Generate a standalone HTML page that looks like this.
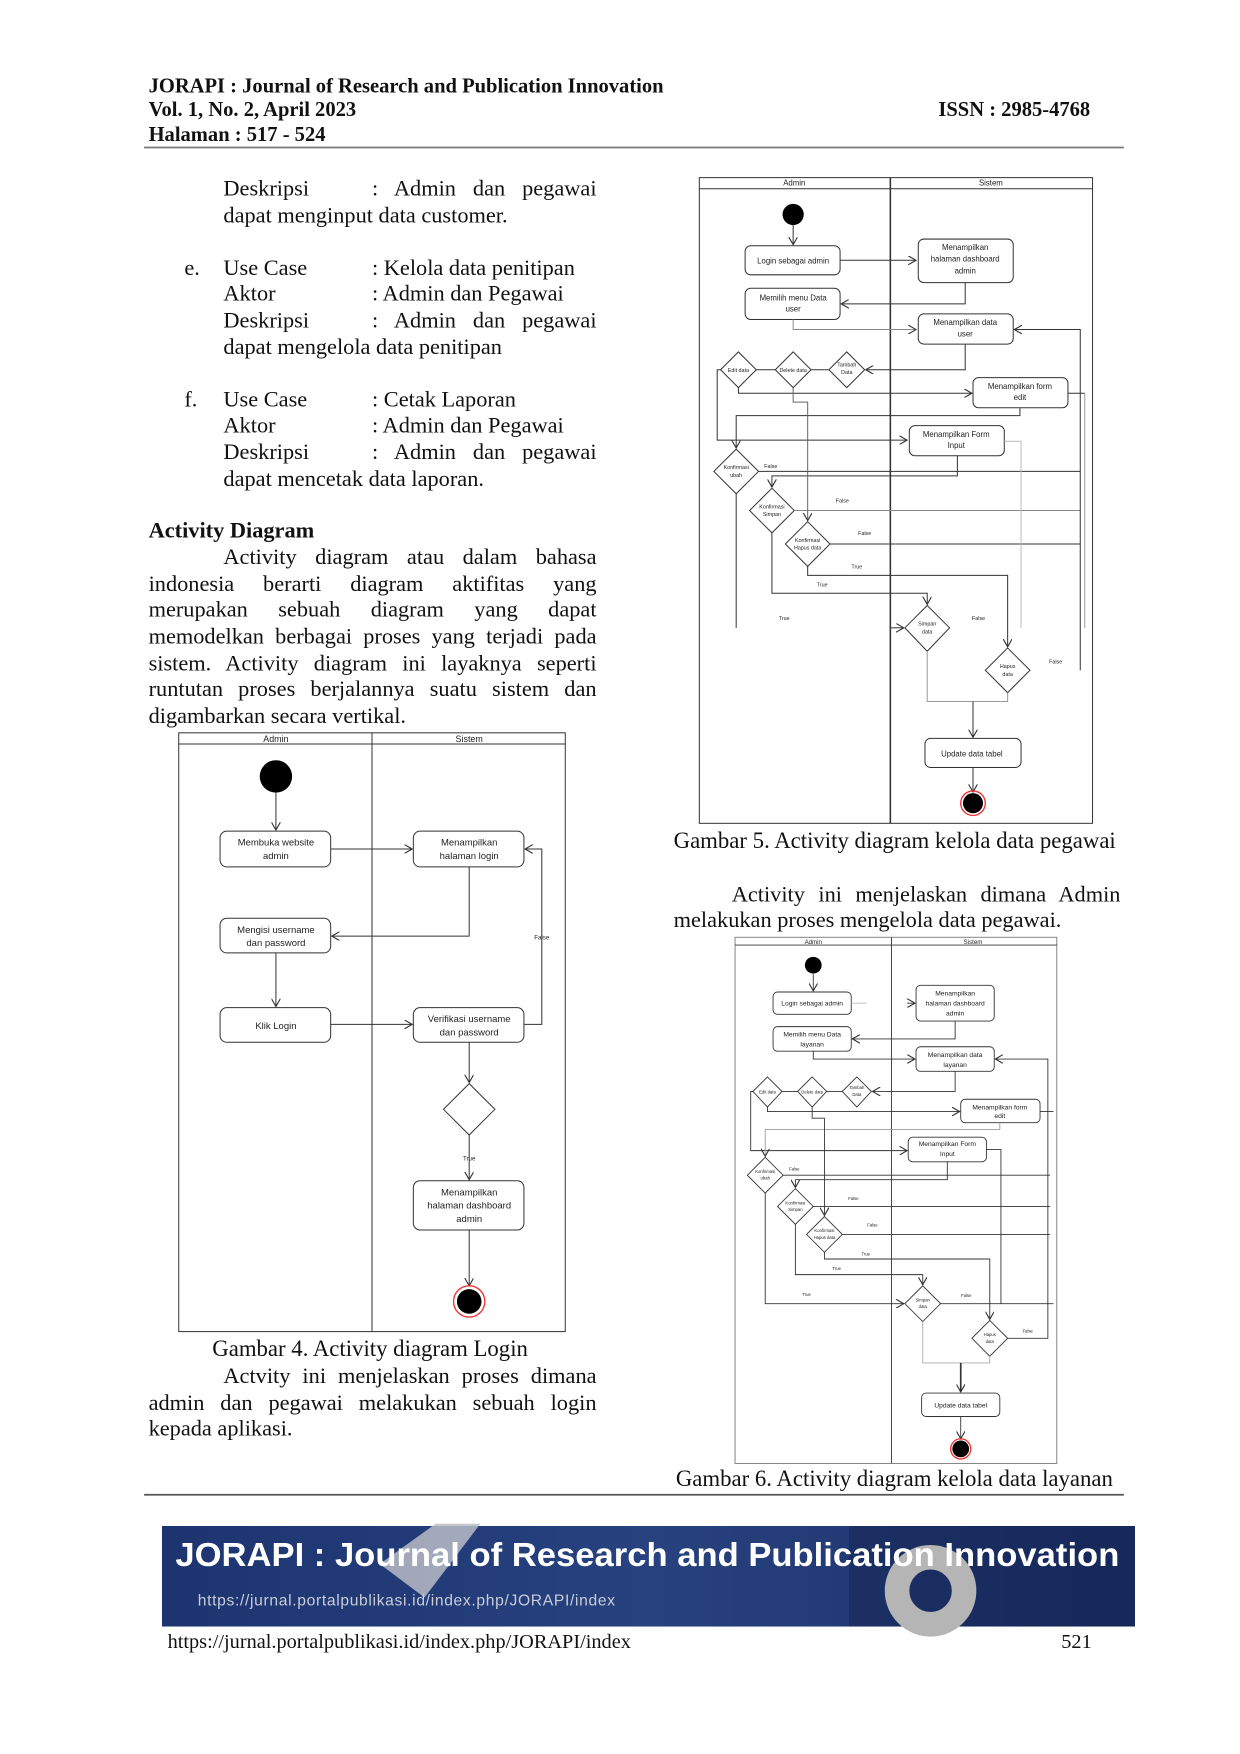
<!DOCTYPE html>
<html><head><meta charset="utf-8"><style>
html,body{margin:0;padding:0;background:#fff}
#root{position:relative;width:1240px;height:1754px;overflow:hidden}
#w{position:absolute;left:0;top:0;width:1110px;height:1570px;transform:scale(1.11712);transform-origin:0 0;font-family:"Liberation Serif",serif;color:#111}
.l{position:absolute;font-size:20px;line-height:24px;white-space:nowrap}
.j{text-align:justify;text-align-last:justify;white-space:normal}
.h{position:absolute;font-size:18.4px;font-weight:bold;line-height:22px;white-space:nowrap}
svg text{font-family:"Liberation Sans",sans-serif;fill:#222}
</style></head><body><div id="root"><div id="w">
<div class="h" style="left:133px;top:66px">JORAPI : Journal of Research and Publication Innovation</div>
<div class="h" style="left:133px;top:87px">Vol. 1, No. 2, April 2023</div>
<div class="h" style="left:133px;top:109px">Halaman : 517 - 524</div>
<div class="h" style="left:840px;top:87px">ISSN : 2985-4768</div>

<div class="l" style="left:200px;top:157px">Deskripsi</div><div class="l j" style="left:333px;top:157px;width:201px">: Admin dan pegawai</div>
<div class="l" style="left:200px;top:181px">dapat menginput data customer.</div>
<div class="l" style="left:165px;top:228px">e.</div>
<div class="l" style="left:200px;top:228px">Use Case</div><div class="l" style="left:333px;top:228px">: Kelola data penitipan</div>
<div class="l" style="left:200px;top:251px">Aktor</div><div class="l" style="left:333px;top:251px">: Admin dan Pegawai</div>
<div class="l" style="left:200px;top:275px">Deskripsi</div><div class="l j" style="left:333px;top:275px;width:201px">: Admin dan pegawai</div>
<div class="l" style="left:200px;top:299px">dapat mengelola data penitipan</div>
<div class="l" style="left:165px;top:346px">f.</div>
<div class="l" style="left:200px;top:346px">Use Case</div><div class="l" style="left:333px;top:346px">: Cetak Laporan</div>
<div class="l" style="left:200px;top:369px">Aktor</div><div class="l" style="left:333px;top:369px">: Admin dan Pegawai</div>
<div class="l" style="left:200px;top:393px">Deskripsi</div><div class="l j" style="left:333px;top:393px;width:201px">: Admin dan pegawai</div>
<div class="l" style="left:200px;top:417px">dapat mencetak data laporan.</div>
<div class="l" style="left:133px;top:463px;font-weight:bold">Activity Diagram</div>
<div class="l j" style="left:200px;top:487px;width:334px">Activity diagram atau dalam bahasa</div>
<div class="l j" style="left:133px;top:511px;width:401px">indonesia berarti diagram aktifitas yang</div>
<div class="l j" style="left:133px;top:534px;width:401px">merupakan sebuah diagram yang dapat</div>
<div class="l j" style="left:133px;top:558px;width:401px">memodelkan berbagai proses yang terjadi pada</div>
<div class="l j" style="left:133px;top:582px;width:401px">sistem. Activity diagram ini layaknya seperti</div>
<div class="l j" style="left:133px;top:605px;width:401px">runtutan proses berjalannya suatu sistem dan</div>
<div class="l" style="left:133px;top:629px">digambarkan secara vertikal.</div>

<div class="l" style="left:190px;top:1196px;font-size:20.4px">Gambar 4. Activity diagram Login</div>
<div class="l j" style="left:200px;top:1220px;width:334px">Actvity ini menjelaskan proses dimana</div>
<div class="l j" style="left:133px;top:1244px;width:401px">admin dan pegawai melakukan sebuah login</div>
<div class="l" style="left:133px;top:1267px">kepada aplikasi.</div>

<div class="l" style="left:603px;top:741px;font-size:20.4px">Gambar 5. Activity diagram kelola data pegawai</div>
<div class="l j" style="left:655px;top:789px;width:348px">Activity ini menjelaskan dimana Admin</div>
<div class="l" style="left:603px;top:812px">melakukan proses mengelola data pegawai.</div>
<div class="l" style="left:605px;top:1312px;font-size:20.4px">Gambar 6. Activity diagram kelola data layanan</div>

<div class="l" style="left:150px;top:1457px;font-size:18.2px">https://jurnal.portalpublikasi.id/index.php/JORAPI/index</div>
<div class="l" style="left:950px;top:1457px;font-size:18.2px">521</div>

<svg style="position:absolute;left:0;top:0" width="1110" height="1570" viewBox="0 0 1110 1570">
<defs>
<marker id="a" markerWidth="8" markerHeight="8" refX="7" refY="4" orient="auto" markerUnits="userSpaceOnUse"><path d="M0,0 L7,4 L0,8" fill="none" stroke="#333" stroke-width="1"/></marker>
<linearGradient id="bg" x1="0" x2="1"><stop offset="0" stop-color="#1d3470"/><stop offset="0.5" stop-color="#27427f"/><stop offset="1" stop-color="#1c2f66"/></linearGradient>
</defs>
<line x1="129" y1="132" x2="1006" y2="132" stroke="#777" stroke-width="1.6"/>
<line x1="129" y1="1338" x2="1006" y2="1338" stroke="#555" stroke-width="1.6"/>

<!-- Diagram 1 -->
<g fill="none" stroke="#333" stroke-width="0.9">
<rect x="160" y="656" width="346" height="536"/>
<line x1="160" y1="666" x2="506" y2="666"/>
<line x1="333" y1="656" x2="333" y2="1192"/>
<line x1="247" y1="709" x2="247" y2="743" marker-end="url(#a)"/>
<rect x="197" y="744" width="99" height="32" rx="6"/>
<rect x="370" y="744" width="99" height="32" rx="6"/>
<line x1="296" y1="760" x2="369" y2="760" marker-end="url(#a)"/>
<polyline points="420,776 420,838 297,838" marker-end="url(#a)"/>
<rect x="197" y="822" width="99" height="31" rx="6"/>
<line x1="247" y1="853" x2="247" y2="901" marker-end="url(#a)"/>
<rect x="197" y="902" width="99" height="31" rx="6"/>
<line x1="296" y1="917" x2="369" y2="917" marker-end="url(#a)"/>
<rect x="370" y="902" width="99" height="31" rx="6"/>
<polyline points="469,917 485,917 485,760 470,760" marker-end="url(#a)"/>
<line x1="420" y1="933" x2="420" y2="969" marker-end="url(#a)"/>
<polygon points="420,970 443,993 420,1016 397,993"/>
<line x1="420" y1="1016" x2="420" y2="1056" marker-end="url(#a)"/>
<rect x="370" y="1057" width="99" height="44" rx="6"/>
<line x1="420" y1="1101" x2="420" y2="1151" marker-end="url(#a)"/>
<circle cx="420" cy="1165" r="14" stroke="#e33" stroke-width="1.2"/>
</g>
<circle cx="247" cy="695" r="14.5" fill="#000"/>
<circle cx="420" cy="1165" r="11" fill="#000"/>
<g font-size="8.5" text-anchor="middle">
<text x="247" y="664" font-size="8">Admin</text><text x="420" y="664" font-size="8">Sistem</text>
<text x="247" y="757">Membuka website</text><text x="247" y="769">admin</text>
<text x="420" y="757">Menampilkan</text><text x="420" y="769">halaman login</text>
<text x="247" y="835">Mengisi username</text><text x="247" y="847">dan password</text>
<text x="247" y="921">Klik Login</text>
<text x="420" y="915">Verifikasi username</text><text x="420" y="927">dan password</text>
<text x="420" y="1070">Menampilkan</text><text x="420" y="1082">halaman dashboard</text><text x="420" y="1094">admin</text>
<text x="485" y="841" font-size="5.5">False</text><text x="420" y="1039" font-size="5.5">True</text>
</g>

<!-- Diagram 2 -->
<g fill="none" stroke="#333" stroke-width="0.9">
<rect x="626" y="159" width="352" height="578"/>
<line x1="626" y1="169" x2="978" y2="169"/>
<line x1="797" y1="159" x2="797" y2="737" stroke-width="1.4"/>
<line x1="710" y1="201" x2="710" y2="219" marker-end="url(#a)"/>
<rect x="667" y="220" width="85" height="26" rx="5"/>
<line x1="752" y1="233" x2="820" y2="233" marker-end="url(#a)"/>
<rect x="822" y="214" width="85" height="39" rx="5"/>
<polyline points="864,253 864,272 753,272" marker-end="url(#a)"/>
<rect x="667" y="258" width="85" height="28" rx="5"/>
<polyline points="710,286 710,295 820,295" marker-end="url(#a)" stroke="#888"/>
<rect x="822" y="281" width="85" height="27" rx="5"/>
<polyline points="864,308 864,331 775,331" marker-end="url(#a)"/>
<polygon points="661,315 677,331 661,347 645,331"/>
<polygon points="710,315 726,331 710,347 694,331"/>
<polygon points="758,315 774,331 758,347 742,331"/>
<line x1="677" y1="331" x2="694" y2="331"/><line x1="726" y1="331" x2="742" y2="331"/>
<polyline points="661,347 661,352 870,352" marker-end="url(#a)"/>
<rect x="871" y="338" width="85" height="27" rx="5"/>
<polyline points="645,331 642,331 642,394 812,394" marker-end="url(#a)"/>
<rect x="814" y="381" width="85" height="27" rx="5"/>
<polyline points="913,365 913,372 659,372 659,401" marker-end="url(#a)"/>
<polygon points="659,402 679,422 659,442 639,422"/>
<line x1="679" y1="422" x2="967" y2="422"/>
<polyline points="857,408 857,426 691,426 691,436" marker-end="url(#a)"/>
<polygon points="691,437 711,457 691,477 671,457"/>
<line x1="711" y1="457" x2="967" y2="457" stroke="#888"/>
<polyline points="710,347 710,360 723,360 723,466" marker-end="url(#a)" stroke="#666"/>
<polygon points="723,467 743,487 723,507 703,487"/>
<line x1="743" y1="487" x2="967" y2="487"/>
<polyline points="723,507 723,515 902,515 902,579" marker-end="url(#a)"/>
<polygon points="902,580 922,600 902,620 882,600"/>
<polyline points="691,477 691,531 830,531 830,541" marker-end="url(#a)"/>
<polygon points="830,542 850,562 830,583 810,562"/>
<line x1="659" y1="442" x2="659" y2="562"/>
<line x1="797" y1="562" x2="809" y2="562" marker-end="url(#a)"/>
<polyline points="967,600 967,295 908,295" marker-end="url(#a)"/>
<line x1="956" y1="352" x2="971" y2="352"/><line x1="971" y1="352" x2="971" y2="562" stroke="#999"/>
<polyline points="899,395 914,395 914,562" stroke="#bbb"/>
<polyline points="830,583 830,628 902,628 902,620" stroke="#999"/>
<line x1="871" y1="628" x2="871" y2="660" marker-end="url(#a)"/>
<rect x="828" y="661" width="86" height="26" rx="5"/>
<line x1="871" y1="687" x2="871" y2="709" marker-end="url(#a)"/>
<circle cx="871" cy="719" r="11" stroke="#e33" stroke-width="1.2"/>
</g>
<circle cx="710" cy="192" r="9.5" fill="#000"/>
<circle cx="871" cy="719" r="9" fill="#000"/>
<g font-size="7" text-anchor="middle">
<text x="711" y="166" font-size="7">Admin</text><text x="887" y="166" font-size="7">Sistem</text>
<text x="710" y="236">Login sebagai admin</text>
<text x="864" y="224">Menampilkan</text><text x="864" y="234">halaman dashboard</text><text x="864" y="245">admin</text>
<text x="710" y="269">Memilih menu Data</text><text x="710" y="279">user</text>
<text x="864" y="291">Menampilkan data</text><text x="864" y="301">user</text>
<text x="913" y="348">Menampilkan form</text><text x="913" y="358">edit</text>
<text x="856" y="391">Menampilkan Form</text><text x="856" y="401">Input</text>
<text x="870" y="677">Update data tabel</text>
<g font-size="4.8"><text x="661" y="333">Edit data</text><text x="710" y="333">Delete data</text><text x="758" y="328">Tambah</text><text x="758" y="335">Data</text>
<text x="659" y="420">Konfirmasi</text><text x="659" y="427">ubah</text>
<text x="691" y="455">Konfirmasi</text><text x="691" y="462">Simpan</text>
<text x="723" y="485">Konfirmasi</text><text x="723" y="492">Hapus data</text>
<text x="830" y="560">Simpan</text><text x="830" y="567">data</text>
<text x="902" y="598">Hapus</text><text x="902" y="605">data</text>
<text x="690" y="419">False</text><text x="754" y="450">False</text><text x="774" y="479">False</text>
<text x="767" y="509">True</text><text x="736" y="525">True</text><text x="702" y="555">True</text>
<text x="876" y="555">False</text><text x="945" y="594">False</text></g>
</g>

<!-- Diagram 3 -->
<g fill="none" stroke="#333" stroke-width="0.8">
<rect x="658" y="839" width="288" height="471" stroke="#777"/>
<line x1="658" y1="846" x2="946" y2="846"/>
<line x1="798" y1="839" x2="798" y2="1310"/>
<line x1="728" y1="872" x2="728" y2="887" marker-end="url(#a)"/>
<rect x="692" y="888" width="70" height="20" rx="4"/>
<line x1="762" y1="898" x2="776" y2="898" stroke="#bbb"/>
<line x1="812" y1="898" x2="819" y2="898" marker-end="url(#a)"/>
<rect x="820" y="882" width="70" height="32" rx="4"/>
<polyline points="855,914 855,930 763,930" marker-end="url(#a)"/>
<rect x="692" y="919" width="70" height="22" rx="4"/>
<polyline points="728,941 728,948 819,948" marker-end="url(#a)"/>
<rect x="820" y="937" width="70" height="22" rx="4"/>
<polyline points="855,959 855,977 781,977" marker-end="url(#a)"/>
<polygon points="687,964 700,977 687,991 674,977"/>
<polygon points="727,964 740,977 727,991 714,977"/>
<polygon points="767,964 780,977 767,991 754,977"/>
<line x1="700" y1="977" x2="714" y2="977"/><line x1="740" y1="977" x2="754" y2="977"/>
<polyline points="687,991 687,995 859,995" marker-end="url(#a)"/>
<rect x="860" y="984" width="71" height="21" rx="4"/>
<polyline points="674,977 672,977 672,1030 812,1030" marker-end="url(#a)"/>
<rect x="813" y="1018" width="70" height="22" rx="4"/>
<polyline points="895,1005 895,1011 685,1011 685,1035" marker-end="url(#a)" stroke="#999"/>
<polygon points="685,1036 701,1052 685,1068 669,1052"/>
<line x1="701" y1="1052" x2="940" y2="1052"/>
<polyline points="848,1040 848,1056 712,1056 712,1063" marker-end="url(#a)"/>
<polygon points="712,1064 728,1080 712,1096 696,1080"/>
<line x1="728" y1="1080" x2="940" y2="1080"/>
<polyline points="727,991 727,1001 738,1001 738,1088" marker-end="url(#a)"/>
<polygon points="738,1089 754,1105 738,1121 722,1105"/>
<line x1="754" y1="1105" x2="940" y2="1105"/>
<polyline points="738,1121 738,1127 886,1127 886,1181" marker-end="url(#a)"/>
<polygon points="886,1182 902,1198 886,1214 870,1198"/>
<polyline points="712,1096 712,1141 826,1141 826,1150" marker-end="url(#a)"/>
<polygon points="826,1151 842,1167 826,1183 810,1167"/>
<polyline points="685,1068 685,1167 809,1167" marker-end="url(#a)"/>
<line x1="842" y1="1167" x2="943" y2="1167"/>
<polyline points="902,1198 938,1198 938,948 891,948" marker-end="url(#a)"/>
<polyline points="931,995 943,995"/>
<polyline points="883,1029 896,1029 896,1167"/>
<polyline points="826,1183 826,1220 886,1220 886,1214" stroke="#aaa"/>
<line x1="860" y1="1220" x2="860" y2="1246" marker-end="url(#a)" stroke-width="1.5"/>
<rect x="825" y="1247" width="70" height="21" rx="4"/>
<line x1="860" y1="1268" x2="860" y2="1288" marker-end="url(#a)"/>
<circle cx="860" cy="1297" r="9" stroke="#e33" stroke-width="1.2"/>
</g>
<circle cx="728" cy="864" r="7.5" fill="#000"/>
<circle cx="860" cy="1297" r="7.5" fill="#000"/>
<g font-size="6" text-anchor="middle">
<text x="728" y="845" font-size="5.5">Admin</text><text x="871" y="845" font-size="5.5">Sistem</text>
<text x="727" y="900">Login sebagai admin</text>
<text x="855" y="891">Menampilkan</text><text x="855" y="900">halaman dashboard</text><text x="855" y="909">admin</text>
<text x="727" y="928">Memilih menu Data</text><text x="727" y="937">layanan</text>
<text x="855" y="946">Menampilkan data</text><text x="855" y="955">layanan</text>
<text x="895" y="993">Menampilkan form</text><text x="895" y="1001">edit</text>
<text x="848" y="1026">Menampilkan Form</text><text x="848" y="1035">Input</text>
<text x="860" y="1260">Update data tabel</text>
<g font-size="3.8"><text x="687" y="979">Edit data</text><text x="727" y="979">Delete data</text><text x="767" y="975">Tambah</text><text x="767" y="981">Data</text>
<text x="685" y="1050">Konfirmasi</text><text x="685" y="1056">ubah</text>
<text x="712" y="1078">Konfirmasi</text><text x="712" y="1084">Simpan</text>
<text x="738" y="1103">Konfirmasi</text><text x="738" y="1109">Hapus data</text>
<text x="826" y="1165">Simpan</text><text x="826" y="1171">data</text>
<text x="886" y="1196">Hapus</text><text x="886" y="1202">data</text>
<text x="711" y="1048">False</text><text x="764" y="1074">False</text><text x="781" y="1098">False</text>
<text x="775" y="1124">True</text><text x="749" y="1137">True</text><text x="722" y="1160">True</text>
<text x="865" y="1161">False</text><text x="920" y="1193">False</text></g>
</g>

<!-- Banner -->
<rect x="145" y="1366" width="871" height="90" fill="url(#bg)"/>
<polygon points="340,1400 390,1364 430,1364 380,1430" fill="#b8bcc6" opacity="0.85"/>
<rect x="760" y="1366" width="256" height="90" fill="#0f1d44" opacity="0.35"/>
<circle cx="833" cy="1424" r="30" fill="none" stroke="#b5b5b5" stroke-width="22"/>
<text x="157" y="1402" font-size="30" font-weight="bold" textLength="845" lengthAdjust="spacingAndGlyphs" style="fill:#fff">JORAPI : Journal of Research and Publication Innovation</text>
<text x="177" y="1437" font-size="14" letter-spacing="0.6" style="fill:#c8cdd8">https://jurnal.portalpublikasi.id/index.php/JORAPI/index</text>
</svg>
</div></div></body></html>
